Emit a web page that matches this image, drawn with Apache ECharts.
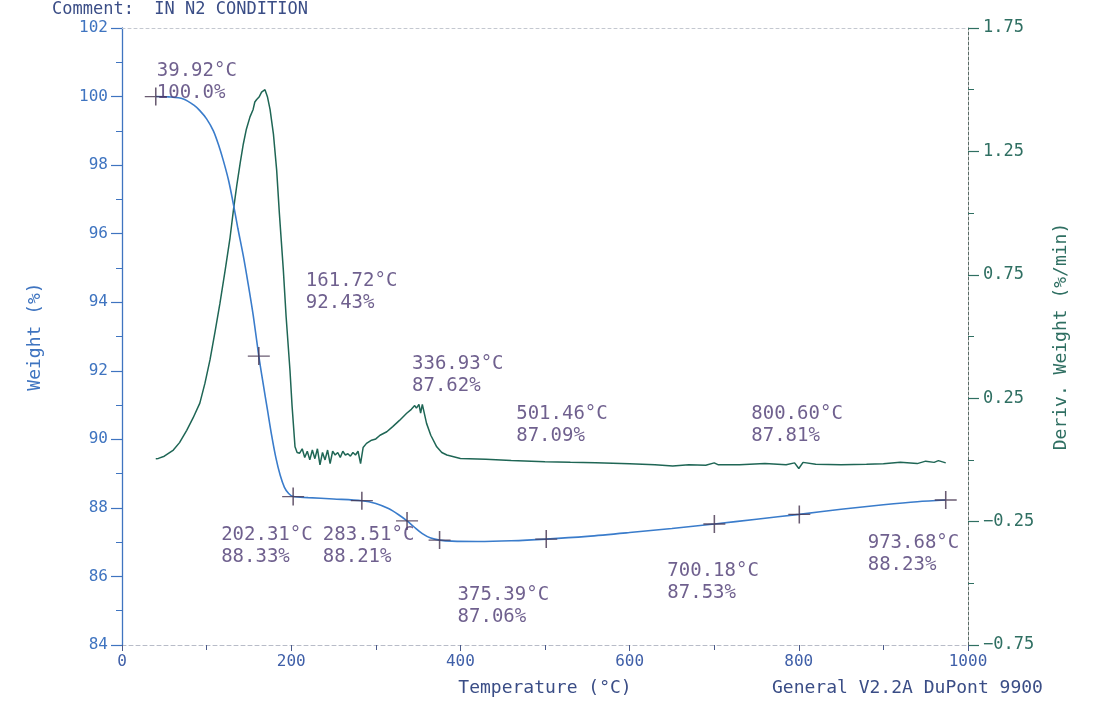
<!DOCTYPE html>
<html>
<head>
<meta charset="utf-8">
<script src="https://cdn.jsdelivr.net/npm/echarts@6/dist/echarts.min.js"></script>
<style>html,body{margin:0;padding:0;background:#fff}#c{width:1098px;height:707px}</style>
</head>
<body>
<div id="c"></div>
<script>
// ---- data ----
const weightCurve = [
  [39.92,100.0],[55,99.99],[72.5,99.93],[85,99.75],[92,99.59],[100,99.35],[108,99.0],[114,98.6],
  [119.8,98.13],[126,97.55],[131.6,96.87],[137,96.15],[143.4,95.35],[149,94.55],[155.2,93.6],[161.72,92.43],
  [167,91.6],[172,90.85],[177,90.1],[182,89.45],[187,88.95],[192,88.6],[197,88.42],[202.31,88.33],[220,88.30],
  [250,88.26],[283.51,88.21],[300,88.13],[315,87.98],[327,87.8],[336.93,87.62],[345,87.45],[355,87.25],
  [365,87.12],[375.39,87.06],[390,87.03],[420,87.02],[460,87.04],[501.46,87.09],[550,87.17],[600,87.28],
  [650,87.40],[700.18,87.53],[750,87.67],[800.6,87.81],[850,87.96],[900,88.09],[940,88.18],[973.68,88.23]
];
const derivCurve = [
  [39.92,0.005],[43,0.006],[50,0.015],[60.7,0.04],[68,0.07],[76.5,0.12],[84,0.17],[92,0.23],[98,0.31],
  [104,0.405],[110,0.52],[115.8,0.635],[122,0.77],[127.7,0.90],[132,1.02],[135.6,1.11],[140,1.21],
  [143.4,1.28],[147,1.34],[151.3,1.39],[155,1.42],[157,1.45],[159.2,1.46],[162,1.47],[165,1.49],[167,1.485],
  [169,1.50],[172,1.47],[175,1.42],[179,1.32],[182.8,1.175],[186,1.0],[190.7,0.77],[194,0.58],
  [198.6,0.36],[201,0.22],[204.5,0.053],[207,0.03],[210,0.027],[213,0.045],[216,0.01],[219,0.035],
  [222,0.0],[225,0.04],[228,0.005],[231,0.045],[234,-0.02],[237,0.03],[240,0.0],[243,0.04],[246,-0.015],
  [249,0.035],[252,0.02],[255,0.03],[258,0.01],[261,0.035],[264,0.02],[267,0.025],[270,0.015],[273,0.03],
  [276,0.02],[279,0.035],[282,-0.015],[285,0.05],[289,0.067],[295,0.08],[300,0.085],[305,0.1],[313,0.114],
  [320,0.135],[328,0.16],[336.5,0.189],[342,0.205],[346,0.22],[348,0.21],[351,0.225],[353,0.19],[355,0.225],
  [360,0.148],[365,0.1],[372,0.053],[378,0.03],[384,0.02],[400,0.006],[430,0.003],[460,-0.002],[500,-0.007],
  [530,-0.01],[560,-0.012],[600,-0.016],[630,-0.02],[651,-0.025],[670,-0.02],[690,-0.022],[700,-0.012],
  [705,-0.02],[730,-0.02],[760,-0.015],[785,-0.02],[795,-0.012],[800,-0.035],[805,-0.01],[820,-0.018],
  [850,-0.02],[880,-0.018],[900,-0.016],[920,-0.01],[940,-0.015],[950,-0.005],[960,-0.01],[965,-0.003],
  [973.68,-0.012]
];
const markerTemps   = [39.92, 161.72, 202.31, 283.51, 336.93, 375.39, 501.46, 700.18, 800.60, 973.68];
const markerWeights = [100.0, 92.43, 88.33, 88.21, 87.62, 87.06, 87.09, 87.53, 87.81, 88.23];
const xTicks = [0, 200, 400, 600, 800, 1000];
const leftTicks = [84, 86, 88, 90, 92, 94, 96, 98, 100, 102];
const rightTicks = [-0.75, -0.25, 0.25, 0.75, 1.25, 1.75];

// ---- label placement (style, not data) ----
const labelOffsets = [[1,-36],[47,-86],[-72,27],[-39,23],[5,-168],[18,44],[-30,-136],[-47,36],[-48,-111],[-78,32]];

const MONO = '"DejaVu Sans Mono", "Liberation Mono", monospace';
const BLUE = '#3f74c0', TEAL = '#2f6f62', PURPLE = '#4b3872', NAVY = '#3a4d86';

function fmtW(w){ return (w >= 100 ? w.toFixed(1) : w.toFixed(2)) + '%'; }

const markerData = markerTemps.map((t, i) => ({
  value: [t, markerWeights[i]],
  label: { offset: labelOffsets[i], formatter: t.toFixed(2) + '°C\n' + fmtW(markerWeights[i]) }
}));

const chart = echarts.init(document.getElementById('c'), null, {renderer: 'canvas'});
chart.setOption({
  animation: false,
  backgroundColor: '#fff',
  grid: { left: 122, right: 130, top: 28, bottom: 62 },
  xAxis: [{
    type: 'value', min: xTicks[0], max: xTicks[xTicks.length-1], interval: 200,
    name: 'Temperature (°C)', nameLocation: 'middle', nameGap: 34,
    nameTextStyle: { fontFamily: MONO, fontSize: 18, color: NAVY },
    axisLine: { show: true, onZero: false, lineStyle: { color: '#b8bcc8', type: [4, 3], width: 1 } },
    axisTick: { show: true, length: 6, lineStyle: { color: '#4a5a8a' } },
    minorTick: { show: true, splitNumber: 2, length: 5, lineStyle: { color: '#4a5a8a' } },
    axisLabel: { fontFamily: MONO, fontSize: 16, color: '#3f5fa8', margin: 9, formatter: v => String(v) },
    splitLine: { show: false }
  }, {
    type: 'value', position: 'top', min: 0, max: 1000,
    axisLine: { show: true, onZero: false, lineStyle: { color: '#c4c8d0', type: [3, 3], width: 1 } },
    axisTick: { show: false }, axisLabel: { show: false }, splitLine: { show: false }
  }],
  yAxis: [{
    type: 'value', position: 'left', min: leftTicks[0], max: leftTicks[leftTicks.length-1], interval: 2,
    name: 'Weight (%)', nameLocation: 'middle', nameGap: 78, nameRotate: 90,
    nameTextStyle: { fontFamily: MONO, fontSize: 18, color: BLUE },
    axisLine: { show: true, onZero: false, lineStyle: { color: BLUE, width: 1.3 } },
    axisTick: { show: true, length: 11, lineStyle: { color: BLUE, width: 1.2 } },
    minorTick: { show: true, splitNumber: 2, length: 6, lineStyle: { color: BLUE } },
    axisLabel: { fontFamily: MONO, fontSize: 16, color: BLUE, margin: 14 },
    splitLine: { show: false }
  }, {
    type: 'value', position: 'right', min: rightTicks[0], max: rightTicks[rightTicks.length-1], interval: 0.5,
    name: 'Deriv. Weight (%/min)', nameLocation: 'middle', nameGap: 84, nameRotate: 90,
    nameTextStyle: { fontFamily: MONO, fontSize: 18, color: TEAL },
    axisLine: { show: true, onZero: false, lineStyle: { color: '#5a6a66', type: [3, 2], width: 1 } },
    axisTick: { show: true, length: 11, lineStyle: { color: TEAL, width: 1.2 } },
    minorTick: { show: true, splitNumber: 2, length: 6, lineStyle: { color: TEAL } },
    axisLabel: { fontFamily: MONO, fontSize: 17, color: TEAL, margin: 15, formatter: v => (v < 0 ? '\u2212' : '') + Math.abs(v).toFixed(2) },
    splitLine: { show: false }
  }],
  graphic: [
    { type: 'text', left: 52, top: 1, style: { text: 'Comment:  IN N2 CONDITION', font: '17px ' + MONO, fill: NAVY } },
    { type: 'text', left: 772, top: 679, style: { text: 'General V2.2A DuPont 9900', font: '18px ' + MONO, fill: NAVY } }
  ],
  series: [{
    type: 'line', name: 'Deriv', xAxisIndex: 0, yAxisIndex: 1, data: derivCurve,
    showSymbol: false, symbol: 'none', lineStyle: { color: '#1f6655', width: 1.5 }, z: 2
  }, {
    type: 'line', name: 'Weight', xAxisIndex: 0, yAxisIndex: 0, data: weightCurve,
    smooth: 0.3,
    showSymbol: false, symbol: 'none', lineStyle: { color: '#3a7ccb', width: 1.6 }, z: 3
  }, {
    type: 'scatter', xAxisIndex: 0, yAxisIndex: 0, data: markerData,
    symbol: 'path://M0,9 L24,9 M12,0 L12,18', symbolSize: [22, 18],
    itemStyle: { color: 'rgba(0,0,0,0)', borderColor: '#45334f', borderWidth: 1.4 },
    label: {
      show: true, position: 'inside', align: 'left', verticalAlign: 'top',
      fontFamily: MONO, fontSize: 19, lineHeight: 22, color: PURPLE
    },
    z: 5
  }]
});
</script>
</body>
</html>
